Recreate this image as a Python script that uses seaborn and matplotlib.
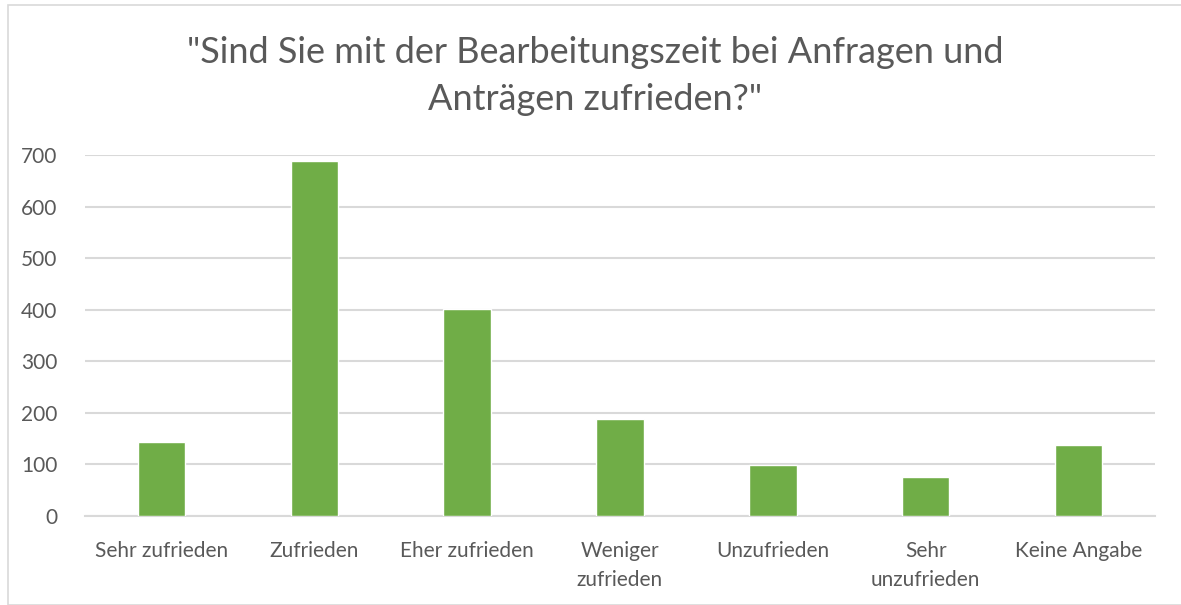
import matplotlib
matplotlib.use("Agg")
import matplotlib.pyplot as plt
import seaborn as sns
import pandas as pd
from matplotlib.patches import Rectangle

categories = ["Sehr zufrieden", "Zufrieden", "Eher zufrieden", "Weniger\nzufrieden",
              "Unzufrieden", "Sehr\nunzufrieden", "Keine Angabe"]
values = [143, 688, 402, 188, 99, 76, 137]
yticks = [0, 100, 200, 300, 400, 500, 600, 700]
title = "\"Sind Sie mit der Bearbeitungszeit bei Anfragen und\nAnträgen zufrieden?\""

sns.set_theme(style="white")
plt.rcParams['font.family'] = ['Lato', 'DejaVu Sans']

df = pd.DataFrame({"cat": categories, "val": values})
fig = plt.figure(figsize=(11.81, 6.05), dpi=100)
ax = fig.add_axes([85/1181, 1-516/605, (1155-85)/1181, (516-155)/605])

sns.barplot(data=df, x="cat", y="val", color="#70AD47", width=0.31, saturation=1, ax=ax, zorder=3)

ax.set_ylim(0, 700)
ax.set_yticks(yticks)
ax.set_xlim(-0.5, len(categories)-0.5)
ax.yaxis.grid(True, color="#D9D9D9", linewidth=1.5, zorder=0)
ax.set_axisbelow(True)
for s in ["top", "right", "left"]:
    ax.spines[s].set_visible(False)
ax.spines["bottom"].set_color("#D9D9D9")
ax.spines["bottom"].set_linewidth(1.5)
ax.set_xlabel("")
ax.set_ylabel("")
ax.tick_params(axis="both", length=0, colors="#595959", labelsize=15)
ax.tick_params(axis="y", pad=20)
ax.tick_params(axis="x", pad=18)
for lab in ax.get_xticklabels():
    lab.set_linespacing(1.55)

fig.text(595/1181, 1-76/605, title, ha="center", va="center", fontsize=26,
         color="#595959", linespacing=1.5)

fig.patches.append(Rectangle((8/1181, 0), 1.0, 1-5/605, transform=fig.transFigure,
                             fill=False, edgecolor="#D9D9D9", linewidth=1.2))

fig.savefig("out.png", dpi=100)
